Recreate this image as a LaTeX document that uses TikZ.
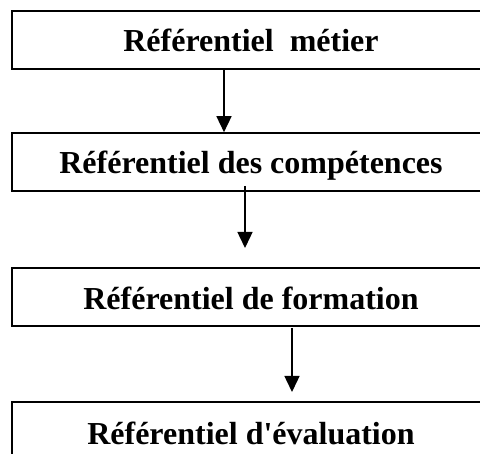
\documentclass[tikz,border=0pt]{standalone}
\usepackage{fontspec}
\setmainfont[Ligatures=TeXOff]{Liberation Serif}
\usetikzlibrary{arrows.meta}
\begin{document}
\begin{tikzpicture}[x=1pt,y=1pt,
  stagebox/.style={draw=black, line width=1.6pt, rectangle, minimum width=478pt, minimum height=58pt, inner sep=0pt},
  stagetext/.style={anchor=base, inner sep=0pt, font=\fontsize{32}{38}\selectfont\bfseries},
  flow/.style={line width=1.5pt, -{Triangle[width=15pt,length=16pt]}}]
\useasboundingbox (0,0) rectangle (480,454);
\clip (0,0) rectangle (480,454);
% boxes
\node[stagebox] (b1) at (251,414) {};
\node[stagebox] (b2) at (251,292) {};
\node[stagebox] (b3) at (251,157) {};
\node[stagebox] (b4) at (251,23) {};
% labels
\node[stagetext] (t1) at (251,402.3) {Référentiel~~métier};
\node[stagetext] (t2) at (251,280.7) {Référentiel des compétences};
\node[stagetext] (t3) at (251,144) {Référentiel de formation};
\node[stagetext] (t4) at (251,9) {Référentiel d'évaluation};
% connectors
\coordinate (x1) at (224,0);
\coordinate (s2) at (245,268);
\coordinate (e2) at (245,206);
\coordinate (s3) at (292,126);
\coordinate (e3) at (292,62);
\draw[flow] (b1.south -| x1) -- (b2.north -| x1);
\draw[flow] (s2) -- (e2);
\draw[flow] (s3) -- (e3);
\end{tikzpicture}
\end{document}
